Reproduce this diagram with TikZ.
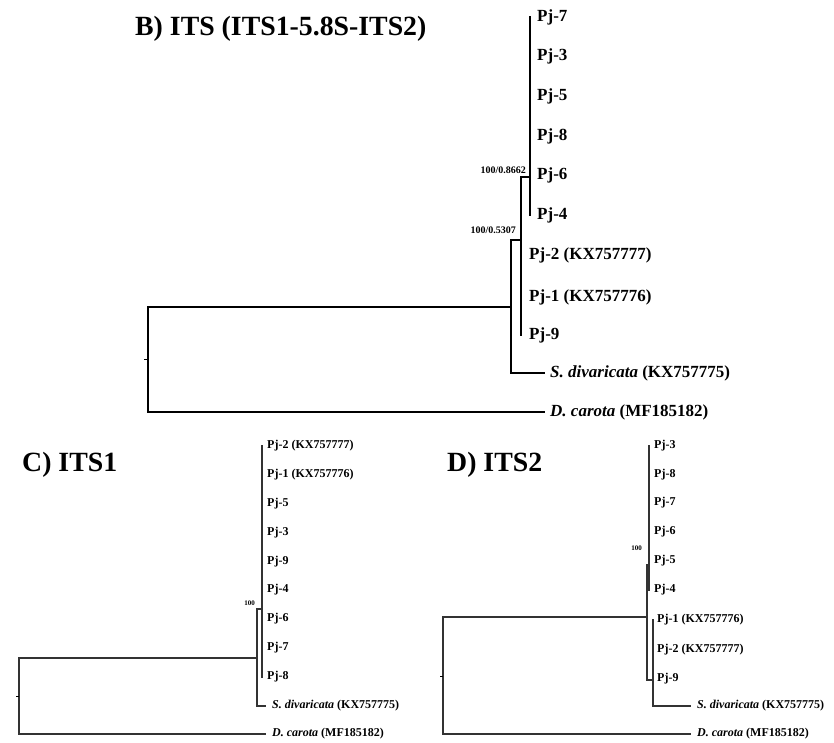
\documentclass[tikz,border=0pt]{standalone}
\usepackage{fontspec}
\setmainfont{Liberation Serif}
\begin{document}
\begin{tikzpicture}[x=1pt,y=-1pt,
  brB/.style={line width=2.8pt,black,line cap=rect},
  brS/.style={line width=1.6pt,black!80,line cap=rect},
  tick/.style={line width=1pt,black},
  labB/.style={anchor=west,inner sep=0pt,font=\fontsize{17}{20}\selectfont\bfseries},
  labS/.style={anchor=west,inner sep=0pt,font=\fontsize{12}{14}\selectfont\bfseries},
  suppB/.style={anchor=east,inner sep=0pt,font=\fontsize{10}{12}\selectfont\bfseries},
  suppS/.style={anchor=east,inner sep=0pt,font=\fontsize{7}{8}\selectfont\bfseries},
  ttl/.style={anchor=west,inner sep=0pt,font=\fontsize{27.8}{32}\selectfont\bfseries}]
\useasboundingbox (0,0) rectangle (834,743);

% ---------- Panel B ----------
\node[ttl] (tB) at (135,29) {B) ITS (ITS1-5.8S-ITS2)};
\node[labB] (B7) at (537,17) {Pj-7};
\node[labB] (B3) at (537,56) {Pj-3};
\node[labB] (B5) at (537,96) {Pj-5};
\node[labB] (B8) at (537,136) {Pj-8};
\node[labB] (B6) at (537,175) {Pj-6};
\node[labB] (B4) at (537,215) {Pj-4};
\node[labB] (B2) at (529,255) {Pj-2 (KX757777)};
\node[labB] (B1) at (529,297) {Pj-1 (KX757776)};
\node[labB] (B9) at (529,335) {Pj-9};
\node[labB] (Bsd) at (550,373) {\textit{S. divaricata} (KX757775)};
\node[labB] (Bdc) at (550,412) {\textit{D. carota} (MF185182)};
\node[suppB] (sB1) at (526,170) {100/0.8662};
\node[suppB] (sB2) at (516,230) {100/0.5307};

\coordinate (B0t) at (148,307);
\coordinate (B0b) at (148,412);
\coordinate (B0m) at (148,359);
\coordinate (B1t) at (511,240);
\coordinate (B1b) at (511,373);
\coordinate (B2m) at (521,177);
\coordinate (B3m) at (530,177);
\draw[brB] (B0t) -- (B0b);
\draw[tick] (B0m) -- ++(-4,0);
\draw[brB] (B0t) -- (B0t -| B1t);
\draw[brB] (B0b) -- ([xshift=-6pt]B0b -| Bdc.west);
\draw[brB] (B1t) -- (B1b);
\draw[brB] (B1b) -- ([xshift=-6pt]B1b -| Bsd.west);
\draw[brB] (B1t) -- (B1t -| B2m);
\draw[brB] (B2m) -- (B2m |- B9.west);
\draw[brB] (B2m) -- (B3m);
\draw[brB] (B3m |- B7.west) -- (B3m |- B4.west);

% ---------- Panel C ----------
\node[ttl] (tC) at (22,465) {C) ITS1};
\node[labS] (C2) at (267,446) {Pj-2 (KX757777)};
\node[labS] (C1) at (267,475) {Pj-1 (KX757776)};
\node[labS] (C5) at (267,504) {Pj-5};
\node[labS] (C3) at (267,533) {Pj-3};
\node[labS] (C9) at (267,562) {Pj-9};
\node[labS] (C4) at (267,590) {Pj-4};
\node[labS] (C6) at (267,619) {Pj-6};
\node[labS] (C7) at (267,648) {Pj-7};
\node[labS] (C8) at (267,677) {Pj-8};
\node[labS] (Csd) at (272,706) {\textit{S. divaricata} (KX757775)};
\node[labS] (Cdc) at (272,734) {\textit{D. carota} (MF185182)};
\node[suppS] (sC) at (255,603) {100};

\coordinate (C0t) at (19,658);
\coordinate (C0b) at (19,734);
\coordinate (C0m) at (19,696);
\coordinate (C1t) at (257,609);
\coordinate (C1b) at (257,706);
\coordinate (C2t) at (262,609);
\draw[brS] (C0t) -- (C0b);
\draw[tick] (C0m) -- ++(-3,0);
\draw[brS] (C0t) -- (C0t -| C1t);
\draw[brS] (C0b) -- ([xshift=-7pt]C0b -| Cdc.west);
\draw[brS] (C1t) -- (C1b);
\draw[brS] (C1b) -- ([xshift=-7pt]C1b -| Csd.west);
\draw[brS] (C1t) -- (C2t);
\draw[brS] (C2t |- C2.west) -- (C2t |- C8.west);

% ---------- Panel D ----------
\node[ttl] (tD) at (447,465) {D) ITS2};
\node[labS] (D3) at (654,446) {Pj-3};
\node[labS] (D8) at (654,475) {Pj-8};
\node[labS] (D7) at (654,503) {Pj-7};
\node[labS] (D6) at (654,532) {Pj-6};
\node[labS] (D5) at (654,561) {Pj-5};
\node[labS] (D4) at (654,590) {Pj-4};
\node[labS] (D1) at (657,620) {Pj-1 (KX757776)};
\node[labS] (D2) at (657,650) {Pj-2 (KX757777)};
\node[labS] (D9) at (657,679) {Pj-9};
\node[labS] (Dsd) at (697,706) {\textit{S. divaricata} (KX757775)};
\node[labS] (Ddc) at (697,734) {\textit{D. carota} (MF185182)};
\node[suppS] (sD) at (642,548) {100};

\coordinate (D0t) at (443,617);
\coordinate (D0b) at (443,734);
\coordinate (D0m) at (443,676);
\coordinate (D1t) at (647,565);
\coordinate (D1b) at (647,680);
\coordinate (D2t) at (649,565);
\coordinate (D3b) at (653,680);
\draw[brS] (D0t) -- (D0b);
\draw[tick] (D0m) -- ++(-3,0);
\draw[brS] (D0t) -- (D0t -| D1t);
\draw[brS] (D0b) -- ([xshift=-7pt]D0b -| Ddc.west);
\draw[brS] (D1t) -- (D1b);
\draw[brS] (D1t) -- (D2t);
\draw[brS] (D2t |- D3.west) -- (D2t |- D4.west);
\draw[brS] (D1b) -- (D3b);
\draw[brS] (D3b |- D1.west) -- (D3b |- Dsd.west);
\draw[brS] (D3b |- Dsd.west) -- ([xshift=-7pt]Dsd.west);
\end{tikzpicture}
\end{document}
